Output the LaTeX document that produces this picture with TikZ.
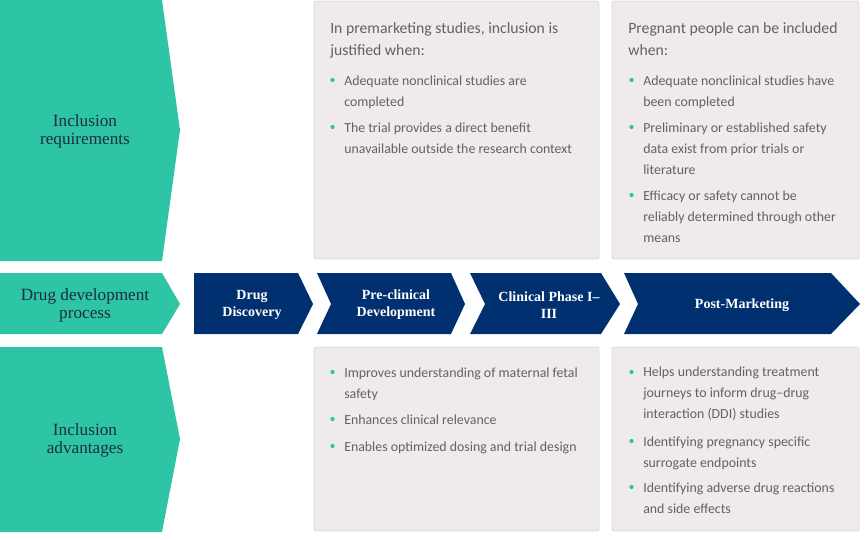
\documentclass[tikz,border=0pt]{standalone}
\usepackage{fontspec}
\setmainfont{Liberation Serif}
\newfontfamily\panelfont{Carlito}
\definecolor{incteal}{HTML}{2EC4A6}
\definecolor{phasenavy}{HTML}{00306F}
\definecolor{panelgray}{HTML}{EFEBEB}
\definecolor{paneledge}{HTML}{DDD9D9}
\definecolor{bodygray}{HTML}{626262}
\definecolor{labeldark}{HTML}{1E2E3E}
\begin{document}
\begin{tikzpicture}[x=0.75pt, y=-0.75pt,
    rowlabel/.style={text=labeldark, align=center, font=\fontsize{12.9}{13.4}\selectfont},
    phaselabel/.style={text=white, align=center, font=\bfseries\fontsize{10.5}{12.8}\selectfont},
    panel/.style={fill=panelgray, draw=paneledge, line width=0.6pt, rounded corners=1.5pt},
    panelhead/.style={anchor=base west, align=left, inner sep=0pt, text=bodygray, font=\panelfont\fontsize{11.8}{16.5}\selectfont},
    paneltext/.style={anchor=base west, align=left, inner sep=0pt, text=bodygray, font=\panelfont\fontsize{10.4}{15.6}\selectfont}]
    \useasboundingbox (0,0) rectangle (866,539);

    % row labels on the left
    \fill[incteal] (0,0) -- (162,0) -- (180,130) -- (162,261) -- (0,261) -- cycle;
    \node[rowlabel] (requirements) at (85,131) {Inclusion\\requirements};
    \fill[incteal] (0,273) -- (162,273) -- (180,304) -- (162,334) -- (0,334) -- cycle;
    \node[rowlabel] (process) at (85,305) {Drug development\\process};
    \fill[incteal] (0,347) -- (162,347) -- (180,439) -- (162,532) -- (0,532) -- cycle;
    \node[rowlabel] (advantages) at (85,440) {Inclusion\\advantages};

    % development phases
    \fill[phasenavy] (194,273) -- (298,273) -- (313,304) -- (298,334) -- (194,334) -- cycle;
    \node[phaselabel] (discovery) at (252,305) {Drug\\Discovery};
    \fill[phasenavy] (317,273) -- (451,273) -- (465,304) -- (451,334) -- (317,334) -- (331,304) -- cycle;
    \node[phaselabel] (preclinical) at (396,305) {Pre-clinical\\Development};
    \fill[phasenavy] (470,273) -- (601,273) -- (620,304) -- (601,334) -- (470,334) -- (485,304) -- cycle;
    \node[phaselabel] (clinical) at (549,305) {Clinical Phase I–\\III};
    \fill[phasenavy] (624,273) -- (831,273) -- (860,304) -- (831,334) -- (624,334) -- (638,304) -- cycle;
    \node[phaselabel] (postmarketing) at (742,305.5) {Post-Marketing};

    % requirements, premarketing (nodes sit on the baseline of their last line)
    \draw[panel] (314,1) rectangle (599,259);
    \node[panelhead] (prehead) at (330,55) {In premarketing studies, inclusion is\\justified when:};
    \fill[incteal] (332.5,80) circle (2.1);
    \node[paneltext] (prereqa) at (344,106) {Adequate nonclinical studies are\\completed};
    \fill[incteal] (332.5,127) circle (2.1);
    \node[paneltext] (prereqb) at (344,153) {The trial provides a direct benefit\\unavailable outside the research context};

    % requirements, post-marketing
    \draw[panel] (612,1) rectangle (859,259);
    \node[panelhead] (posthead) at (628,55) {Pregnant people can be included\\when:};
    \fill[incteal] (631.5,80) circle (2.1);
    \node[paneltext] (postreqa) at (643,106) {Adequate nonclinical studies have\\been completed};
    \fill[incteal] (631.5,127) circle (2.1);
    \node[paneltext] (postreqb) at (643,174) {Preliminary or established safety\\data exist from prior trials or\\literature};
    \fill[incteal] (631.5,195) circle (2.1);
    \node[paneltext] (postreqc) at (643,242) {Efficacy or safety cannot be\\reliably determined through other\\means};

    % advantages, premarketing
    \draw[panel] (314,347) rectangle (599,531);
    \fill[incteal] (332.5,372) circle (2.1);
    \node[paneltext] (preadva) at (344,398) {Improves understanding of maternal fetal\\safety};
    \fill[incteal] (332.5,419) circle (2.1);
    \node[paneltext] (preadvb) at (344,424) {Enhances clinical relevance};
    \fill[incteal] (332.5,446) circle (2.1);
    \node[paneltext] (preadvc) at (344,451) {Enables optimized dosing and trial design};

    % advantages, post-marketing
    \draw[panel] (612,347) rectangle (859,531);
    \fill[incteal] (631.5,372) circle (2.1);
    \node[paneltext] (postadva) at (643,418) {Helps understanding treatment\\journeys to inform drug–drug\\interaction (DDI) studies};
    \fill[incteal] (631.5,441) circle (2.1);
    \node[paneltext] (postadvb) at (643,467) {Identifying pregnancy specific\\surrogate endpoints};
    \fill[incteal] (631.5,487) circle (2.1);
    \node[paneltext] (postadvc) at (643,513) {Identifying adverse drug reactions\\and side effects};
\end{tikzpicture}
\end{document}
